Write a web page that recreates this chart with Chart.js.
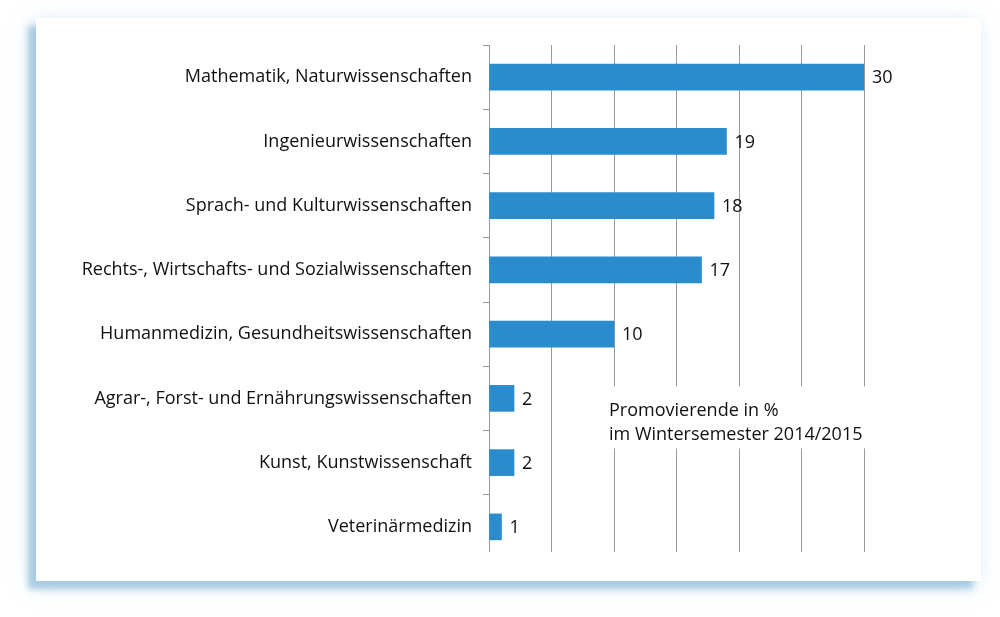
<!DOCTYPE html>
<html>
<head>
<meta charset="utf-8">
<script src="https://cdn.jsdelivr.net/npm/chart.js@4/dist/chart.umd.min.js"></script>
<style>
  html, body { margin: 0; padding: 0; background: #fff; }
  body { width: 1000px; height: 617px; position: relative; overflow: hidden; }
  .card {
    position: absolute; left: 36px; top: 18px; width: 945px; height: 563px;
    background: #fff;
    box-shadow: -8px 8px 6px rgba(150, 192, 220, 0.75), -4px 4px 18px rgba(170, 205, 230, 0.6);
  }
  canvas { display: block; }
</style>
</head>
<body>
<div class="card"><canvas id="bar-chart" width="945" height="563"></canvas></div>
<script>
'use strict';
const categories = [
  'Mathematik, Naturwissenschaften',
  'Ingenieurwissenschaften',
  'Sprach- und Kulturwissenschaften',
  'Rechts-, Wirtschafts- und Sozialwissenschaften',
  'Humanmedizin, Gesundheitswissenschaften',
  'Agrar-, Forst- und Ernährungswissenschaften',
  'Kunst, Kunstwissenschaft',
  'Veterinärmedizin'
];
const shares = [30, 19, 18, 17, 10, 2, 2, 1];
const xTicks = [0, 5, 10, 15, 20, 25, 30];
const note = ['Promovierende in %', 'im Wintersemester 2014/2015'];

const FONT = '"Open Sans", sans-serif';

// value labels next to the bars + note box over the grid
const extras = {
  id: 'extras',
  beforeDatasetsDraw(chart) {
    // grid and axis stop a little above the last category boundary
    const a = chart.chartArea;
    chart.ctx.save();
    chart.ctx.fillStyle = '#fff';
    chart.ctx.fillRect(a.left - 8, a.bottom - 7, a.right - a.left + 10, 9);
    chart.ctx.restore();
  },
  afterDatasetsDraw(chart) {
    const ctx = chart.ctx;
    const x = chart.scales.x;
    ctx.save();
    ctx.font = '18px ' + FONT;
    ctx.fillStyle = '#111';
    ctx.textBaseline = 'middle';
    chart.getDatasetMeta(0).data.forEach((bar, i) => {
      ctx.fillText(String(shares[i]), bar.x + 8, bar.y + 1);
    });
    // note: white box hides the grid behind it
    const nx = x.getPixelForValue(9.6);
    const ny = chart.getDatasetMeta(0).data[5].y;
    ctx.fillStyle = '#fff';
    ctx.fillRect(nx - 6, ny - 12, 270, 62);
    ctx.fillStyle = '#111';
    ctx.textBaseline = 'alphabetic';
    ctx.fillText(note[0], nx, ny + 18);
    ctx.fillText(note[1], nx, ny + 42);
    ctx.restore();
  }
};

new Chart(document.getElementById('bar-chart'), {
  type: 'bar',
  data: {
    labels: categories,
    datasets: [{
      data: shares,
      backgroundColor: '#2b8ccd',
      barThickness: 26
    }]
  },
  plugins: [extras],
  options: {
    indexAxis: 'y',
    responsive: false,
    animation: false,
    events: [],
    layout: { padding: { left: 0, right: 117, top: 27, bottom: 22 } },
    plugins: { legend: { display: false }, tooltip: { enabled: false } },
    scales: {
      x: {
        min: 0, max: 30,
        afterBuildTicks: s => { s.ticks = xTicks.map(v => ({ value: v })); },
        afterFit: s => { s.height = 0; },
        ticks: { display: false },
        border: { display: false },
        grid: { color: '#9a9a9a', lineWidth: 1, drawTicks: false }
      },
      y: {
        afterFit: s => { s.width = 453; },
        ticks: { color: '#111', font: { family: FONT, size: 18 }, padding: 11 },
        border: { display: true, color: '#9a9a9a' },
        grid: { drawOnChartArea: false, color: '#9a9a9a', tickLength: 6, offset: true }
      }
    }
  }
});
</script>
</body>
</html>
